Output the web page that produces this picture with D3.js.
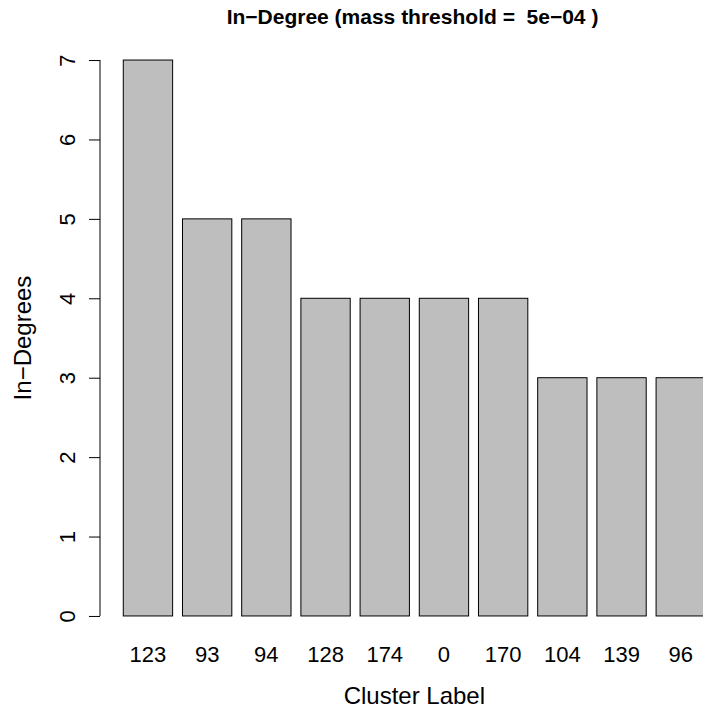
<!DOCTYPE html>
<html><head><meta charset="utf-8">
<script src="https://cdn.jsdelivr.net/npm/d3@7"></script>
<style>
html,body{margin:0;padding:0;background:#fff;}
text{font-family:"Liberation Sans",Arial,Helvetica,sans-serif;}
</style></head>
<body>
<svg id="chart" width="703" height="713"></svg>
<script>
const categories = ["123","93","94","128","174","0","170","104","139","96"];
const values = [7,5,5,4,4,4,4,3,3,3];
const yTicks = [0,1,2,3,4,5,6,7];
const titleText = "In\u2212Degree (mass threshold =  5e\u221204 )";
const xLabel = "Cluster Label";
const yLabel = "In\u2212Degrees";

const svg = d3.select("#chart");
const barW = 1, space = 0.2;
const n = categories.length;
const xmin = space, xmax = n*(barW+space);
const xpad = (xmax - xmin)*0.04;
const x = d3.scaleLinear().domain([xmin - xpad, xmax + xpad]).range([100, 728.7]);
const ymaxv = d3.max(values);
const ypad = ymaxv*0.04;
const y = d3.scaleLinear().domain([-ypad, ymaxv + ypad]).range([638.2, 37.8]);

// bars
svg.append("g").selectAll("rect").data(values).join("rect")
  .attr("x", (d,i)=> x(space + i*(barW+space)))
  .attr("width", (d,i)=> x(barW) - x(0))
  .attr("y", d=> y(d))
  .attr("height", d=> y(0) - y(d))
  .attr("fill", "#bebebe")
  .attr("stroke", "#000")
  .attr("stroke-width", 1);

// y axis
const ax = svg.append("g").attr("transform","translate(100,0)")
  .call(d3.axisLeft(y).tickValues(yTicks).tickSize(11).tickSizeOuter(0).tickFormat(d3.format("d")));
ax.select(".domain").remove();
ax.append("line").attr("x1",0).attr("x2",0).attr("y1",y(0)).attr("y2",y(ymaxv)).attr("stroke","#000");
ax.selectAll(".tick line").attr("stroke","#000");
ax.selectAll(".tick text")
  .attr("x",null).attr("dy",null)
  .attr("transform","translate(-25,0) rotate(-90)")
  .attr("text-anchor","middle")
  .attr("fill","#000")
  .style("font-size","22px")
  .style("font-family","'Liberation Sans',Arial,sans-serif");

// x labels
svg.append("g").selectAll("text").data(categories).join("text")
  .attr("x", (d,i)=> x(space + i*(barW+space) + barW/2))
  .attr("y", 662)
  .attr("text-anchor","middle")
  .style("font-size","22px")
  .text(d=>d);

// title
svg.append("text").attr("x", 412.5).attr("y", 24)
  .attr("text-anchor","middle").style("font-size","21px").style("font-weight","bold")
  .style("white-space","pre").attr("xml:space","preserve")
  .text(titleText);

// axis titles
svg.append("text").attr("x", (x.range()[0]+x.range()[1])/2).attr("y", 704)
  .attr("text-anchor","middle").style("font-size","24px").text(xLabel);
svg.append("text").attr("transform", `translate(30.5,${(y.range()[0]+y.range()[1])/2}) rotate(-90)`)
  .attr("text-anchor","middle").style("font-size","24px").text(yLabel);
</script>
</body></html>
